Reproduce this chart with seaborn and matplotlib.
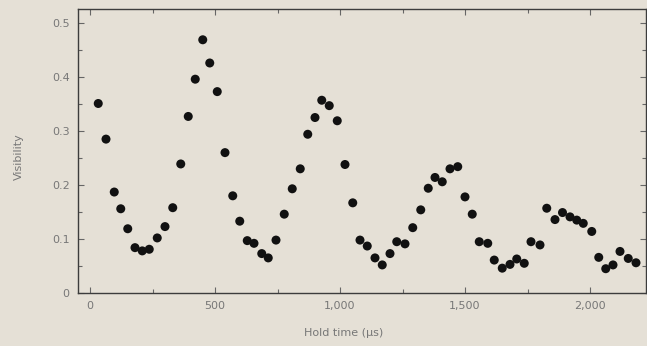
import matplotlib
matplotlib.use("Agg")
import matplotlib.pyplot as plt
import seaborn as sns
import pandas as pd
from matplotlib.ticker import MultipleLocator

hold_time = [33, 64, 97, 123, 151, 180, 209, 237, 269, 300, 331, 363, 393, 421, 451,
             479, 509, 540, 571, 599, 629, 656, 687, 713, 744, 777, 809, 841, 871, 900,
             927, 957, 989, 1020, 1051, 1080, 1109, 1140, 1169, 1200, 1227, 1260, 1291,
             1323, 1353, 1380, 1409, 1440, 1471, 1500, 1529, 1557, 1591, 1617, 1649,
             1680, 1707, 1737, 1764, 1800, 1827, 1860, 1890, 1920, 1947, 1973, 2007,
             2035, 2063, 2092, 2120, 2153, 2184]
visibility = [0.351, 0.285, 0.187, 0.156, 0.119, 0.084, 0.078, 0.081, 0.102, 0.123,
              0.158, 0.239, 0.327, 0.396, 0.469, 0.426, 0.373, 0.260, 0.180, 0.133,
              0.097, 0.092, 0.073, 0.065, 0.098, 0.146, 0.193, 0.230, 0.294, 0.325,
              0.357, 0.347, 0.319, 0.238, 0.167, 0.098, 0.087, 0.065, 0.052, 0.073,
              0.095, 0.091, 0.121, 0.154, 0.194, 0.214, 0.206, 0.230, 0.234, 0.178,
              0.146, 0.095, 0.092, 0.061, 0.046, 0.053, 0.063, 0.055, 0.095, 0.089,
              0.157, 0.136, 0.149, 0.141, 0.135, 0.129, 0.114, 0.066, 0.045, 0.052,
              0.077, 0.064, 0.056]
x_ticks = [0, 500, 1000, 1500, 2000]
x_tick_labels = ["0", "500", "1,000", "1,500", "2,000"]
y_ticks = [0, 0.1, 0.2, 0.3, 0.4, 0.5]
y_tick_labels = ["0", "0.1", "0.2", "0.3", "0.4", "0.5"]

df = pd.DataFrame({"Hold time": hold_time, "Visibility": visibility})

bg = "#e5e0d6"
sns.set_style("ticks")
plt.rcParams["font.family"] = ["DejaVu Sans"]

fig = plt.figure(figsize=(6.47, 3.46), dpi=100, facecolor=bg)
ax = fig.add_axes([78/647, 1-293/346, (646-78)/647, (293-9)/346])
ax.set_facecolor(bg)

sns.scatterplot(data=df, x="Hold time", y="Visibility", ax=ax, color="#111111",
                s=42, edgecolor="none", legend=False)

ax.set_xlim(-48, 2224)
ax.set_ylim(0, 0.526)
ax.set_xticks(x_ticks)
ax.set_xticklabels(x_tick_labels)
ax.set_yticks(y_ticks)
ax.set_yticklabels(y_tick_labels)
ax.xaxis.set_minor_locator(MultipleLocator(250))
ax.yaxis.set_minor_locator(MultipleLocator(0.05))

spine_col = "#3c3c3c"
for s in ax.spines.values():
    s.set_visible(True)
    s.set_color(spine_col)
    s.set_linewidth(1.0)

ax.tick_params(which="both", direction="in", top=True, right=True, color="#666666",
               labelcolor="#777777", labelsize=8, width=0.8)
ax.tick_params(which="major", length=4)
ax.tick_params(which="minor", length=3)
ax.tick_params(axis="x", pad=6)
ax.tick_params(axis="y", pad=6)

ax.set_xlabel("Hold time (µs)", color="#777777", fontsize=8)
ax.set_ylabel("Visibility", color="#777777", fontsize=8)
ax.xaxis.set_label_coords(0.467, -0.125)
ax.yaxis.set_label_coords(-0.095, 0.48)

fig.savefig("out.png", dpi=100, facecolor=bg)
